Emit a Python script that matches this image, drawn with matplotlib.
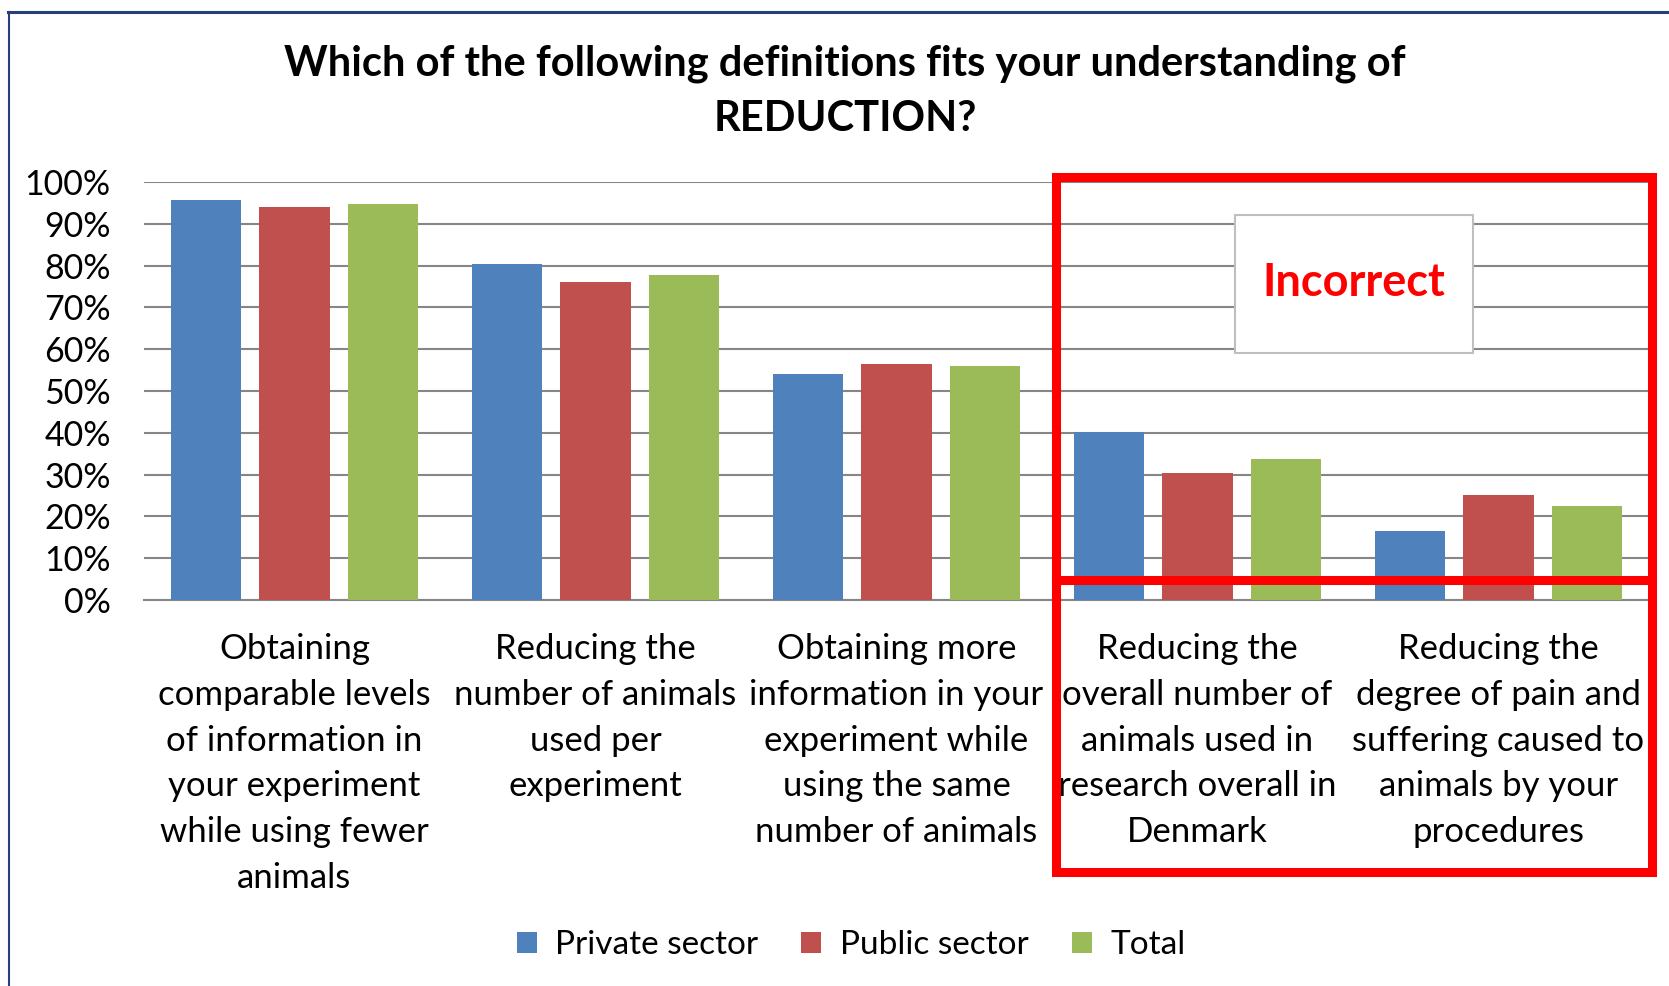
import matplotlib.pyplot as plt
from matplotlib.patches import Rectangle, Patch
from matplotlib.lines import Line2D
from matplotlib.ticker import FuncFormatter
import numpy as np

plt.rcParams['font.family'] = ['Lato', 'DejaVu Sans']

# data (percent)
categories = [
    "Obtaining\ncomparable levels\nof information in\nyour experiment\nwhile using fewer\nanimals",
    "Reducing the\nnumber of animals\nused per\nexperiment",
    "Obtaining more\ninformation in your\nexperiment while\nusing the same\nnumber of animals",
    "Reducing the\noverall number of\nanimals used in\nresearch overall in\nDenmark",
    "Reducing the\ndegree of pain and\nsuffering caused to\nanimals by your\nprocedures",
]
private = [95.8, 80.5, 54.1, 40.2, 16.6]
public = [94.1, 76.0, 56.5, 30.4, 25.2]
total = [94.8, 77.7, 55.9, 33.7, 22.6]
series_names = ["Private sector", "Public sector", "Total"]
colors = ['#4F81BD', '#C0504D', '#9BBB59']

W, H = 1669, 986
fig = plt.figure(figsize=(W / 100, H / 100), dpi=100)
ax = fig.add_axes([144 / W, 1 - 600 / H, (1649 - 144) / W, (600 - 182) / H])

x = np.arange(len(categories))
bw = 0.233
step = 0.293
for i, (vals, name, c) in enumerate(zip([private, public, total], series_names, colors)):
    ax.bar(x + (i - 1) * step, vals, bw, color=c, label=name, zorder=3)

ax.set_xlim(-0.5, len(categories) - 0.5)
ax.set_ylim(0, 100)
ax.set_yticks(np.arange(0, 101, 10))
ax.yaxis.set_major_formatter(FuncFormatter(lambda v, p: "%d%%" % v))
ax.grid(axis='y', color='#868686', linewidth=1.5, zorder=0)
ax.set_axisbelow(True)
for s in ['top', 'right', 'left']:
    ax.spines[s].set_visible(False)
ax.spines['bottom'].set_color('#868686')
ax.spines['bottom'].set_linewidth(1.5)
ax.tick_params(axis='both', length=0)
ax.tick_params(axis='y', pad=24, labelsize=24.5)
ax.tick_params(axis='x', pad=24, labelsize=25)
ax.set_xticks(x)
ax.set_xticklabels(categories, linespacing=1.525)

# title
fig.text(845 / W, 1 - 91 / H,
         "Which of the following definitions fits your understanding of\nREDUCTION?",
         ha='center', va='center', fontsize=30, fontweight='bold', linespacing=1.56)

# "Incorrect" callout
fig.add_artist(Rectangle((1235 / W, 1 - 353 / H), (1473 - 1235) / W, (353 - 215) / H,
                         transform=fig.transFigure, facecolor='white',
                         edgecolor='#BFBFBF', linewidth=1.5, zorder=5))
fig.text(1354 / W, 1 - 283 / H, "Incorrect", ha='center', va='center',
         fontsize=32.5, fontweight='bold', color='#FF0000', zorder=6)

# red highlight box
fig.add_artist(Rectangle((1056 / W, 1 - 872 / H), (1652 - 1056) / W, (872 - 177) / H,
                         transform=fig.transFigure, facecolor='none',
                         edgecolor='#FF0000', linewidth=6.5, zorder=7))
fig.add_artist(Line2D([1056 / W, 1652 / W], [1 - 580 / H, 1 - 580 / H],
                      transform=fig.transFigure, color='#FF0000', linewidth=6.5, zorder=7))

# outer border (top and left only)
fig.add_artist(Line2D([8 / W, 1], [1 - 12 / H, 1 - 12 / H], transform=fig.transFigure,
                      color='#243F7A', linewidth=2.2))
fig.add_artist(Line2D([9 / W, 9 / W], [1 - 12 / H, 0], transform=fig.transFigure,
                      color='#243F7A', linewidth=1.5))

handles = [Patch(facecolor=c, edgecolor='none') for c in colors]
fig.legend(handles, series_names, loc='center', bbox_to_anchor=(851 / W, 1 - 945 / H),
           ncol=3, frameon=False, fontsize=24, handlelength=0.6, handleheight=0.6,
           handletextpad=0.55, columnspacing=1.3)

fig.savefig("out.png", dpi=100)
